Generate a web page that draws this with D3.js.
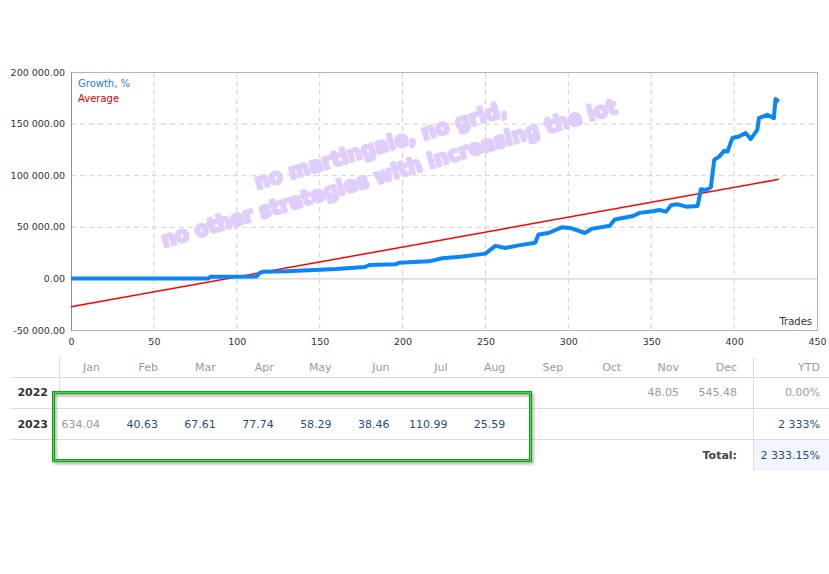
<!DOCTYPE html>
<html>
<head>
<meta charset="utf-8">
<script src="https://cdn.jsdelivr.net/npm/d3@7"></script>
<style>
  body { margin: 0; background: #fff; }
  svg { display: block; font-family: "DejaVu Sans", Tahoma, sans-serif; }
</style>
</head>
<body>
<div id="chart"></div>
<script>
// growth curve (trade number, growth %)
const TRADES = [0, 83, 84, 112, 114, 116, 130, 150, 160, 177, 180, 196, 198, 216, 224, 235, 250, 256, 262, 270,
                280, 282, 288, 296, 302, 310, 314, 325, 328, 339, 343, 351, 355, 359, 362, 366, 371, 378, 380, 383,
                386, 388, 391, 394, 396, 399, 403, 407, 410, 414, 415, 420, 424, 425, 427];
const GROWTH = [0, 0, 1500, 1800, 5500, 6500, 7000, 8500, 9000, 11000, 13000, 13800, 15200, 16500, 19500, 21000, 24000, 31500, 29500, 32000,
                34500, 42500, 44000, 49500, 48500, 44000, 48000, 51000, 57000, 60500, 63500, 65000, 66300, 64700, 71000, 71800, 69500, 70200, 86400, 85700,
                88300, 114900, 118000, 123600, 123000, 136000, 137500, 140800, 135000, 144000, 155300, 158500, 155300, 173800, 171400];

// average (trend) line
const AVG_TRADES = [0, 427];
const AVG_VALUES = [-27500, 96000];

const X_TICKS = [0, 50, 100, 150, 200, 250, 300, 350, 400, 450];
const Y_TICKS = [-50000, 0, 50000, 100000, 150000, 200000];

// monthly table
const MONTHS = ["Jan", "Feb", "Mar", "Apr", "May", "Jun", "Jul", "Aug", "Sep", "Oct", "Nov", "Dec"];
const YEARS = ["2022", "2023"];
const ROW_2022 = [null, null, null, null, null, null, null, null, null, null, "48.05", "545.48"];
const ROW_2023 = ["634.04", "40.63", "67.61", "77.74", "58.29", "38.46", "110.99", "25.59", null, null, null, null];
const YTD = ["0.00%", "2 333%"];
const TOTAL = "2 333.15%";

const WIDTH = 829, HEIGHT = 574;
const PLOT = {left: 71, right: 817, top: 72, bottom: 330};

const svg = d3.select("#chart").append("svg")
    .attr("width", WIDTH)
    .attr("height", HEIGHT);

const X_SCALE = d3.scaleLinear().domain([0, 450]).range([PLOT.left, PLOT.right]);
const Y_SCALE = d3.scaleLinear().domain([-50000, 200000]).range([PLOT.bottom, PLOT.top]);

const fmtY = (v) => d3.format(",.2f")(v).replace(/,/g, " ").replace("−", "-");

// grid
svg.append("g")
    .selectAll("line")
    .data(X_TICKS.slice(1, -1))
    .enter().append("line")
      .attr("x1", (d) => X_SCALE(d)).attr("x2", (d) => X_SCALE(d))
      .attr("y1", PLOT.top).attr("y2", PLOT.bottom)
      .attr("stroke", "#d0d0d0").attr("stroke-dasharray", "5,4");

svg.append("g")
    .selectAll("line")
    .data(Y_TICKS.slice(1, -1))
    .enter().append("line")
      .attr("x1", PLOT.left).attr("x2", PLOT.right)
      .attr("y1", (d) => Y_SCALE(d) + 0.5).attr("y2", (d) => Y_SCALE(d) + 0.5)
      .attr("stroke", (d) => d == 0 ? "#c8c8c8" : "#d0d0d0")
      .attr("stroke-dasharray", (d) => d == 0 ? null : "5,4");

// frame
svg.append("rect")
    .attr("x", PLOT.left + 0.5).attr("y", PLOT.top + 0.5)
    .attr("width", PLOT.right - PLOT.left).attr("height", PLOT.bottom - PLOT.top)
    .attr("fill", "none").attr("stroke", "#b4b4b4");
svg.append("line")
    .attr("x1", PLOT.left + 0.5).attr("x2", PLOT.left + 0.5)
    .attr("y1", PLOT.top).attr("y2", PLOT.bottom + 1)
    .attr("stroke", "#909090");

// axes
const xAxis = svg.append("g")
    .attr("transform", "translate(0," + PLOT.bottom + ")")
    .call(d3.axisBottom(X_SCALE).tickValues(X_TICKS).tickSize(0).tickPadding(8));
const yAxis = svg.append("g")
    .attr("transform", "translate(" + PLOT.left + ",0)")
    .call(d3.axisLeft(Y_SCALE).tickValues(Y_TICKS).tickSize(0).tickPadding(6).tickFormat(fmtY));
[xAxis, yAxis].forEach((a) => {
  a.select(".domain").remove();
  a.attr("font-family", "DejaVu Sans, sans-serif").attr("font-size", "9.5px");
  a.selectAll("text").attr("fill", "#333");
});

// watermark
const WATERMARK = ["no martingale, no grid,", "no other strategies with increasing the lot"];
const wm = svg.append("g")
    .attr("transform", "translate(385,160) rotate(-16.5)");
wm.selectAll("text")
  .data(WATERMARK)
  .enter().append("text")
    .attr("x", 0)
    .attr("y", (d, i) => i * 29 - 8)
    .attr("text-anchor", "middle")
    .attr("textLength", (d, i) => i == 0 ? 262 : 474)
    .attr("lengthAdjust", "spacingAndGlyphs")
    .attr("font-family", "DejaVu Sans, sans-serif")
    .attr("font-weight", "bold")
    .attr("font-size", "21px")
    .attr("fill", "#dfcdfb")
    .attr("stroke", "#dfcdfb")
    .attr("stroke-width", 2.6)
    .attr("stroke-linejoin", "round")
    .text((d) => d);

// average line
svg.append("path")
    .datum(AVG_TRADES.map((t, i) => [t, AVG_VALUES[i]]))
    .attr("d", d3.line().x((d) => X_SCALE(d[0])).y((d) => Y_SCALE(d[1])))
    .attr("fill", "none").attr("stroke", "#ff0000").attr("stroke-width", 1.5);

// growth line
svg.append("path")
    .datum(TRADES.map((t, i) => [t, GROWTH[i]]))
    .attr("d", d3.line().x((d) => X_SCALE(d[0])).y((d) => Y_SCALE(d[1])))
    .attr("fill", "none").attr("stroke", "#0a86f8").attr("stroke-width", 4)
    .attr("stroke-linejoin", "round");

// legend + axis title
svg.append("text").attr("x", 78).attr("y", 87).attr("font-size", "10px").attr("fill", "#1a7ee6").text("Growth, %");
svg.append("text").attr("x", 78).attr("y", 102).attr("font-size", "10px").attr("fill", "#e00000").text("Average");
svg.append("text").attr("x", 812).attr("y", 325).attr("text-anchor", "end").attr("font-size", "10px").attr("fill", "#333").text("Trades");

// ---- table ----
const COL = d3.scalePoint().domain(MONTHS).range([100, 737]);
const ROW_Y = {head: 371, r2022: 396, r2023: 428, total: 459};
const T = svg.append("g").attr("font-family", "DejaVu Sans, sans-serif").attr("font-size", "11px");

// total cell background
T.append("rect").attr("x", 753).attr("y", 440).attr("width", 76).attr("height", 31).attr("fill", "#f2f5fb");

// lines
[377, 408, 439].forEach((y) => {
  T.append("line").attr("x1", 10).attr("x2", WIDTH).attr("y1", y + 0.5).attr("y2", y + 0.5).attr("stroke", "#dcdcdc");
});
T.append("line").attr("x1", 59.5).attr("x2", 59.5).attr("y1", 357).attr("y2", 391).attr("stroke", "#dcdcdc");
T.append("line").attr("x1", 753.5).attr("x2", 753.5).attr("y1", 357).attr("y2", 471).attr("stroke", "#dcdcdc");

// header
T.selectAll(".mhead").data(MONTHS).enter().append("text")
    .attr("x", (d) => COL(d)).attr("y", ROW_Y.head).attr("text-anchor", "end")
    .attr("fill", "#9a9a9a").text((d) => d);
T.append("text").attr("x", 820).attr("y", ROW_Y.head).attr("text-anchor", "end").attr("fill", "#9a9a9a").text("YTD");

// years
T.selectAll(".year").data(YEARS).enter().append("text")
    .attr("x", 48).attr("y", (d, i) => i == 0 ? ROW_Y.r2022 : ROW_Y.r2023)
    .attr("text-anchor", "end").attr("font-weight", "bold").attr("font-size", "11px")
    .attr("fill", "#333").text((d) => d);

// values
const cellColor = (row, i) => (row == 0 || i == 0) ? "#9a9a9a" : "#1f4f82";
[ROW_2022, ROW_2023].forEach((vals, r) => {
  T.selectAll(".v" + r).data(vals).enter().append("text")
      .filter((d) => d != null)
      .attr("x", (d, i) => COL(MONTHS[vals.indexOf(d)]))
      .attr("y", r == 0 ? ROW_Y.r2022 : ROW_Y.r2023)
      .attr("text-anchor", "end")
      .attr("fill", (d) => cellColor(r, vals.indexOf(d)))
      .text((d) => d);
});
T.selectAll(".ytd").data(YTD).enter().append("text")
    .attr("x", 820).attr("y", (d, i) => i == 0 ? ROW_Y.r2022 : ROW_Y.r2023)
    .attr("text-anchor", "end")
    .attr("fill", (d, i) => i == 0 ? "#9a9a9a" : "#1f4f82").text((d) => d);

T.append("text").attr("x", 737).attr("y", ROW_Y.total).attr("text-anchor", "end")
    .attr("font-weight", "bold").attr("fill", "#444").text("Total:");
T.append("text").attr("x", 820).attr("y", ROW_Y.total).attr("text-anchor", "end")
    .attr("fill", "#1f4f82").text(TOTAL);

// green highlight box
const defs = svg.append("defs");
const f = defs.append("filter").attr("id", "shadow").attr("x", "-10%").attr("y", "-20%").attr("width", "120%").attr("height", "150%");
f.append("feDropShadow").attr("dx", 1.5).attr("dy", 2).attr("stdDeviation", 1.5).attr("flood-color", "#000").attr("flood-opacity", 0.35);
svg.append("rect")
    .attr("x", 53.5).attr("y", 392.5).attr("width", 477).attr("height", 68)
    .attr("fill", "none").attr("stroke", "#1e9e1e").attr("stroke-width", 3)
    .attr("filter", "url(#shadow)");
svg.append("rect")
    .attr("x", 53.5).attr("y", 392.5).attr("width", 477).attr("height", 68)
    .attr("fill", "none").attr("stroke", "#4cd64c").attr("stroke-width", 1);
</script>
</body>
</html>
